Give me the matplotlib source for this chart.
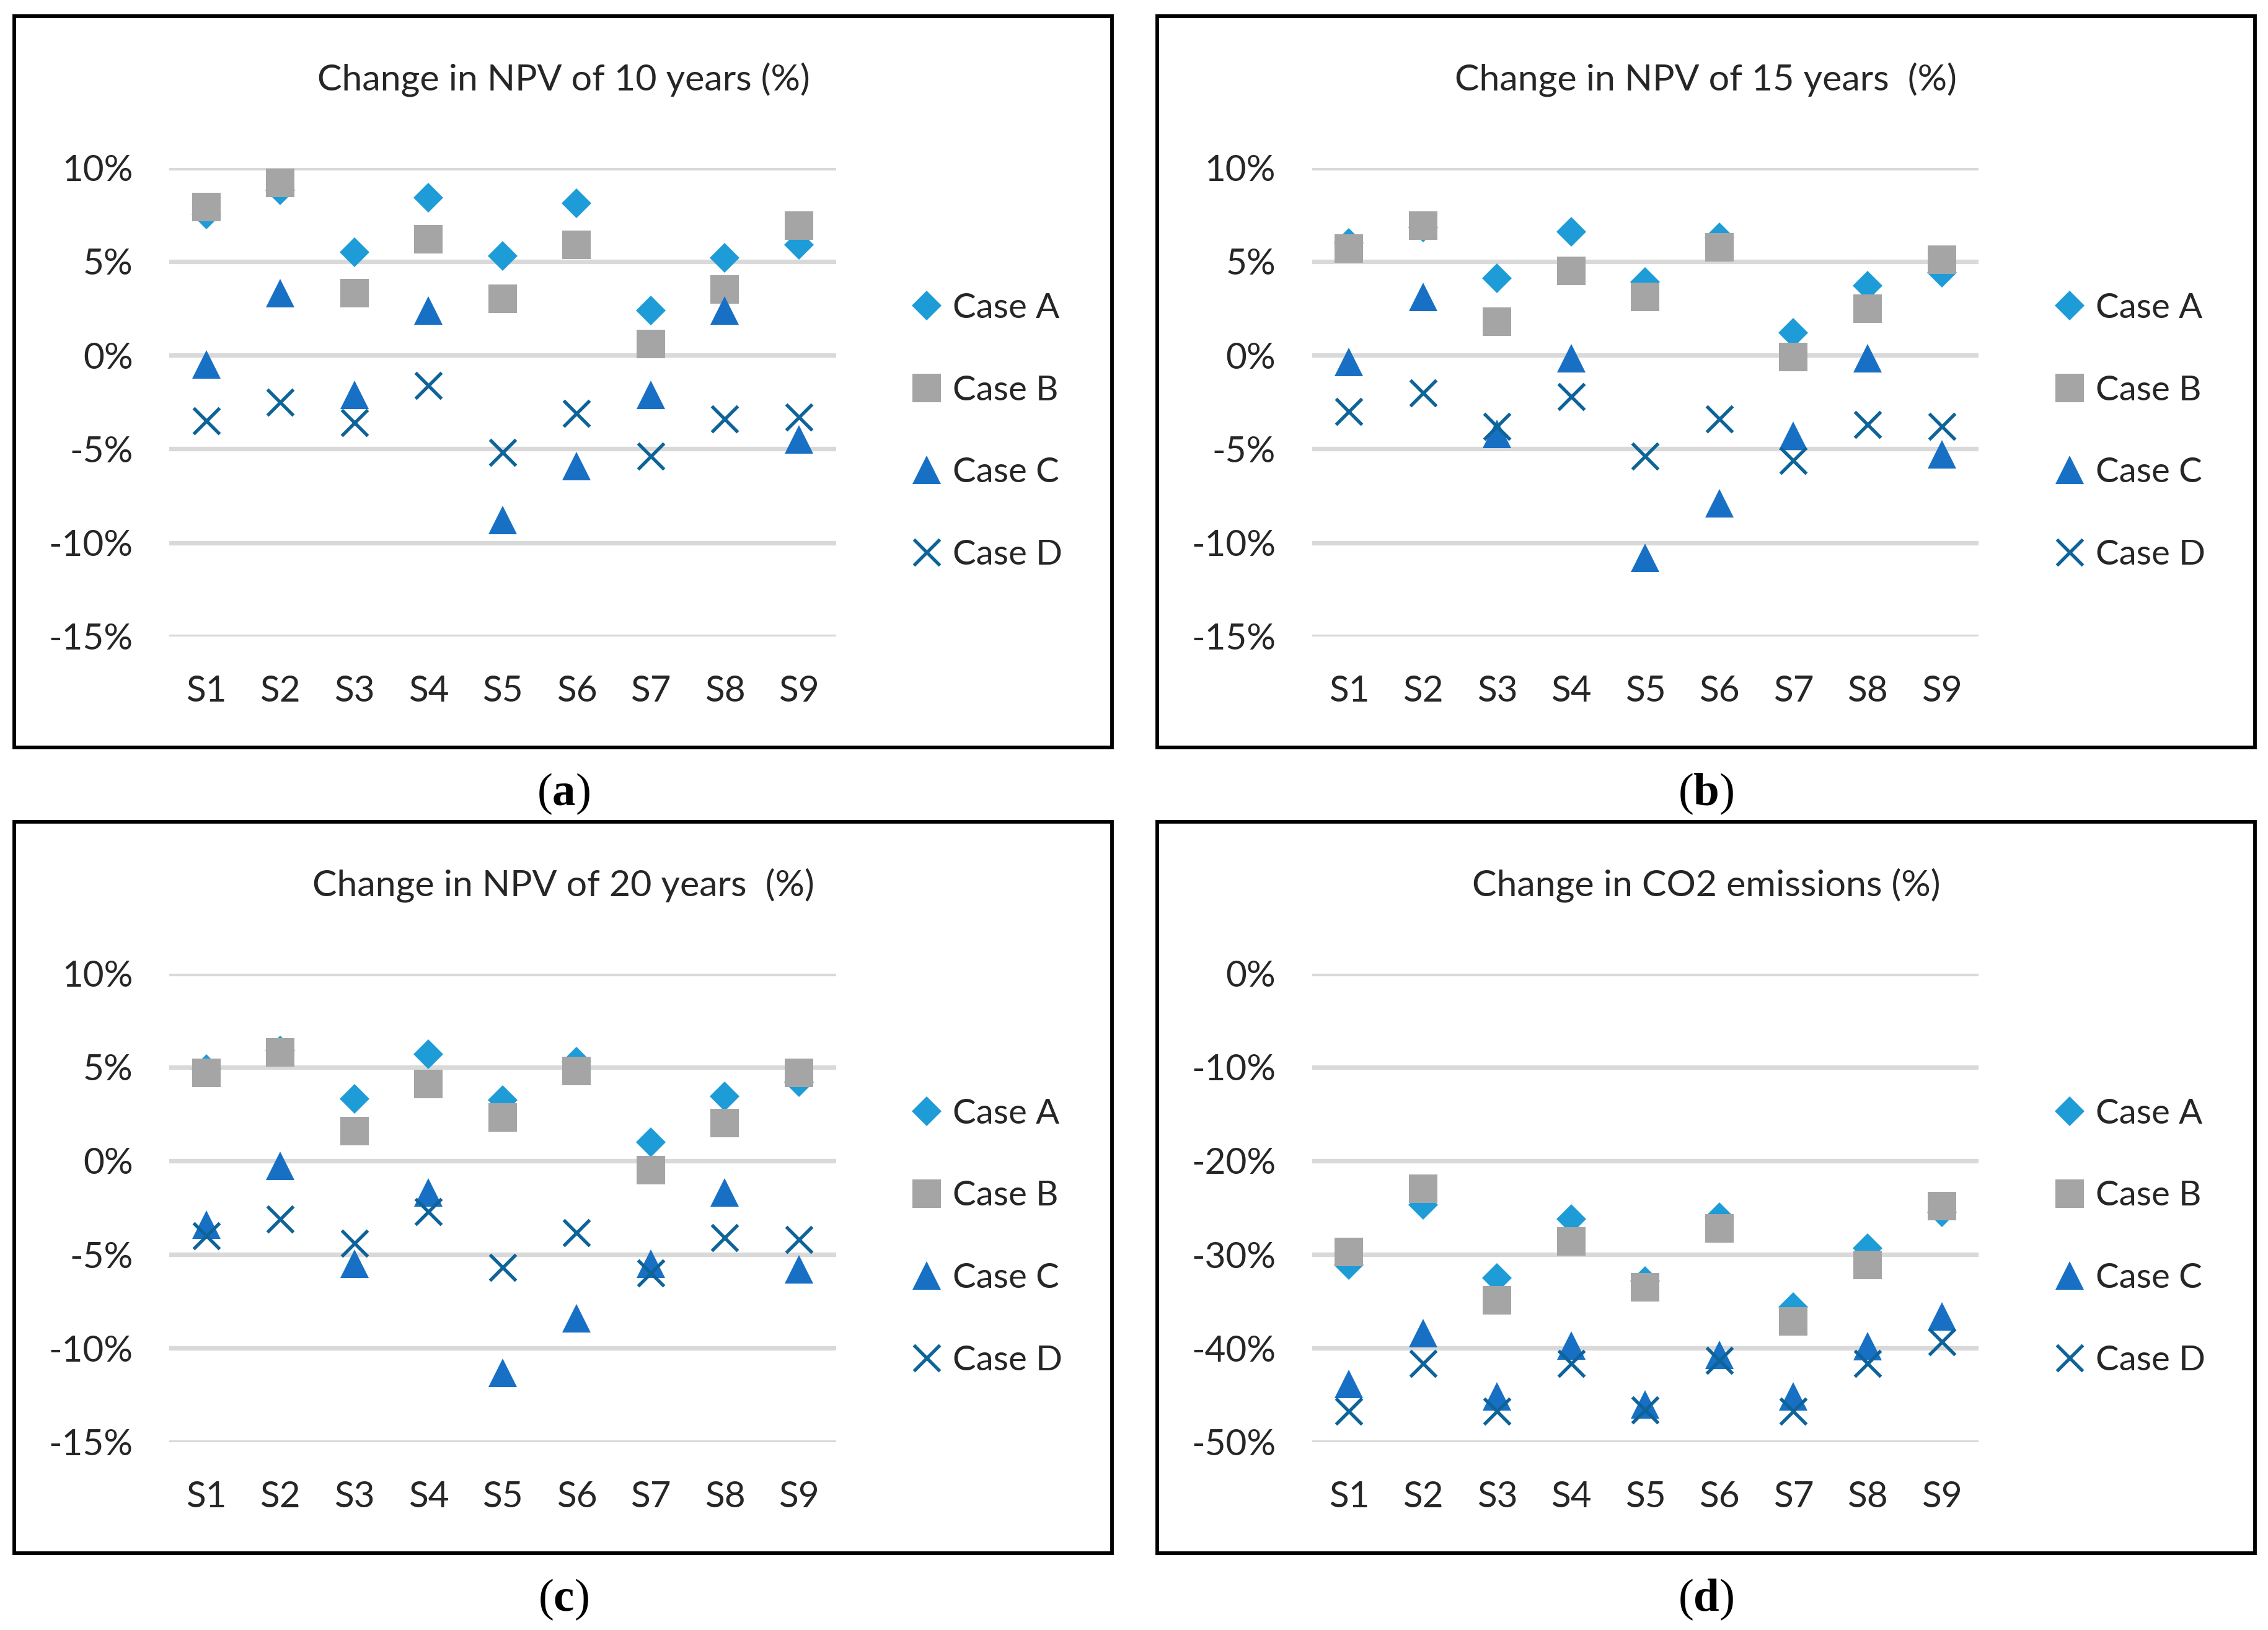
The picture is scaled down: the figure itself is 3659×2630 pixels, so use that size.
import matplotlib.pyplot as plt
from matplotlib.patches import Rectangle
from matplotlib.ticker import FuncFormatter

plt.rcParams["font.family"] = ["Lato", "DejaVu Sans"]
plt.rcParams["mathtext.fontset"] = "custom"
plt.rcParams["mathtext.rm"] = "Liberation Serif"
plt.rcParams["mathtext.bf"] = "Liberation Serif:bold"

scenarios = ["S1", "S2", "S3", "S4", "S5", "S6", "S7", "S8", "S9"]
cases = ["Case A", "Case B", "Case C", "Case D"]

# change in NPV of 10 years (%)
npv10_a = [7.5, 8.8, 5.5, 8.4, 5.3, 8.1, 2.4, 5.2, 5.9]
npv10_b = [7.9, 9.2, 3.3, 6.2, 3.0, 5.9, 0.6, 3.5, 6.9]
npv10_c = [-0.5, 3.3, -2.1, 2.4, -8.8, -5.9, -2.1, 2.4, -4.5]
npv10_d = [-3.5, -2.5, -3.6, -1.6, -5.2, -3.1, -5.4, -3.4, -3.3]

# change in NPV of 15 years (%)
npv15_a = [6.0, 6.8, 4.1, 6.6, 3.9, 6.3, 1.2, 3.7, 4.4]
npv15_b = [5.7, 6.9, 1.8, 4.5, 3.1, 5.75, -0.1, 2.5, 5.1]
npv15_c = [-0.35, 3.1, -4.2, -0.15, -10.8, -7.9, -4.3, -0.15, -5.3]
npv15_d = [-3.0, -2.0, -3.8, -2.2, -5.4, -3.4, -5.6, -3.7, -3.8]

# change in NPV of 20 years (%)
npv20_a = [4.9, 5.9, 3.3, 5.7, 3.25, 5.3, 1.0, 3.45, 4.2]
npv20_b = [4.7, 5.8, 1.6, 4.1, 2.3, 4.8, -0.5, 2.0, 4.7]
npv20_c = [-3.4, -0.25, -5.5, -1.7, -11.3, -8.4, -5.5, -1.7, -5.8]
npv20_d = [-4.0, -3.1, -4.4, -2.7, -5.7, -3.85, -6.0, -4.1, -4.2]

# change in CO2 emissions (%)
co2_a = [-31.1, -24.7, -32.5, -26.2, -32.8, -26.0, -35.6, -29.3, -25.5]
co2_b = [-29.7, -23.0, -34.9, -28.6, -33.5, -27.2, -37.1, -31.1, -24.8]
co2_c = [-43.8, -38.4, -45.1, -39.7, -46.0, -40.7, -45.1, -39.8, -36.6]
co2_d = [-46.7, -41.6, -46.7, -41.6, -46.6, -41.3, -46.7, -41.6, -39.3]

panels = [
    ("Change in NPV of 10 years (%)", "a", [npv10_a, npv10_b, npv10_c, npv10_d], (-15, 10, 5)),
    ("Change in NPV of 15 years  (%)", "b", [npv15_a, npv15_b, npv15_c, npv15_d], (-15, 10, 5)),
    ("Change in NPV of 20 years  (%)", "c", [npv20_a, npv20_b, npv20_c, npv20_d], (-15, 10, 5)),
    ("Change in CO2 emissions (%)", "d", [co2_a, co2_b, co2_c, co2_d], (-50, 0, 10)),
]

colors = ["#1E9CD7", "#A5A5A5", "#1870C5", "#0E6499"]
markers = ["D", "s", "^", "x"]
sizes = [8.2, 11, 11, 10]

W, H = 1568, 1127  # layout measured in a 1568 px wide copy
box_pos = [(10, 11), (800, 11), (10, 568), (800, 568)]

fig = plt.figure(figsize=(3659 / 300, 2630 / 300), dpi=300)

for (title, tag, series, (ymin, ymax, step)), (bx, by) in zip(panels, box_pos):
    # frame around each chart
    fig.patches.append(Rectangle((bx / W, 1 - (by + 506) / H), 759 / W, 506 / H,
                                 transform=fig.transFigure, fill=False,
                                 edgecolor="black", linewidth=1.4))
    ax = fig.add_axes([(bx + 107) / W, 1 - (by + 105 + 324) / H, 461 / W, 324 / H])
    x = range(len(scenarios))
    for i, vals in enumerate(series):
        ax.plot(x, vals, linestyle="none", marker=markers[i], color=colors[i],
                markersize=sizes[i], markeredgewidth=1.3 if markers[i] == "x" else 0,
                label=cases[i], zorder=3 + i)
    ax.set_xlim(-0.5, len(scenarios) - 0.5)
    ax.set_ylim(ymin, ymax)
    ax.set_yticks(range(ymin, ymax + 1, step))
    ax.yaxis.set_major_formatter(FuncFormatter(lambda v, p: f"{v:.0f}%"))
    ax.set_xticks(list(x))
    ax.set_xticklabels(scenarios)
    ax.grid(axis="y", color="#D9D9D9", linewidth=1.75)
    ax.set_axisbelow(True)
    for s in ax.spines.values():
        s.set_visible(False)
    ax.tick_params(length=0, labelsize=14, colors="#262626", pad=15)
    ax.tick_params(axis="y", pad=14)
    ax.legend(loc="center left", bbox_to_anchor=(1.11, 0.437), frameon=False,
              fontsize=13.5, borderpad=0, borderaxespad=0, handlelength=1,
              handletextpad=0.25, labelspacing=1.45, labelcolor="#262626")
    fig.text((bx + 379.5) / W, 1 - (by + 44) / H, title, ha="center", va="center",
             fontsize=14.2, color="#262626")
    fig.text((bx + 379.5) / W, 1 - (by + 538) / H, r"$\mathrm{(}\mathbf{" + tag + r"}\mathrm{)}$",
             ha="center", va="center", fontsize=18)

plt.savefig("out.png", dpi=300)
